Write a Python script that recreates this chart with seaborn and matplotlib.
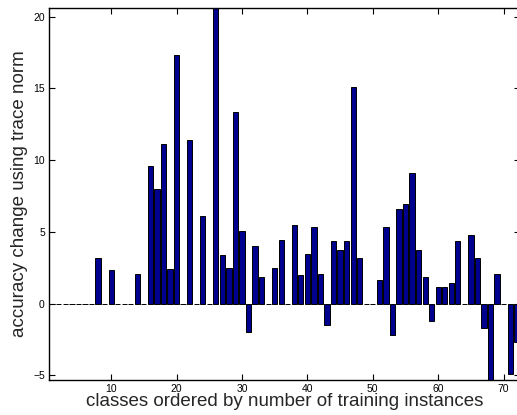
import numpy as np
import pandas as pd
import seaborn as sns
import matplotlib
matplotlib.use("Agg")
import matplotlib.pyplot as plt

# class index (ordered by number of training instances)
classes = list(range(1, 73))
# accuracy change using trace norm
acc_change = [
    0, 0, 0, 0, 0, 0, 0, 3.2, 0, 2.32,
    0, 0, 0, 2.04, 0, 9.57, 8.0, 11.15, 2.44, 17.3,
    0, 11.43, 0, 6.08, 0, 21.0, 3.37, 2.48, 13.35, 5.04,
    -1.97, 3.99, 1.86, 0, 2.48, 4.46, 0, 5.46, 1.97, 3.44,
    5.35, 2.09, -1.51, 4.36, 3.71, 4.36, 15.1, 3.2, 0, 0,
    1.67, 5.35, -2.21, 6.56, 6.97, 9.11, 3.71, 1.86, -1.21, 1.16,
    1.16, 1.44, 4.34, 0, 4.76, 3.2, -1.67, -5.6, 2.04, 0,
    -4.88, -2.68,
]
x_ticks = [10, 20, 30, 40, 50, 60, 70]
y_ticks = [-5, 0, 5, 10, 15, 20]

df = pd.DataFrame({"cls": classes, "change": acc_change})

sns.set_style("ticks")
plt.rcParams["font.family"] = ["Liberation Sans", "DejaVu Sans"]

fig = plt.figure(figsize=(5.17, 4.15), dpi=100)
ax = fig.add_axes([0.0948, 0.0843, 0.911, 0.8964])

sns.barplot(data=df, x="cls", y="change", native_scale=True, width=0.8,
            color="#00008f", saturation=1, edgecolor="black", linewidth=0.7,
            ax=ax)

ax.set_xlim(0.5, 72.5)
ax.set_ylim(-5.33, 20.6)
ax.set_xticks(x_ticks)
ax.set_yticks(y_ticks)
ax.tick_params(direction="in", length=4, width=0.8, top=True, right=True,
               labelsize=7.5, colors="black", pad=3)
for s in ax.spines.values():
    s.set_visible(True)
    s.set_linewidth(1.0)
    s.set_color("black")

ax.set_xlabel("classes ordered by number of training instances",
              fontsize=13.5, labelpad=-1)
ax.set_ylabel("accuracy change using trace norm", fontsize=13.5, labelpad=4)

fig.savefig("out.png", dpi=100)
